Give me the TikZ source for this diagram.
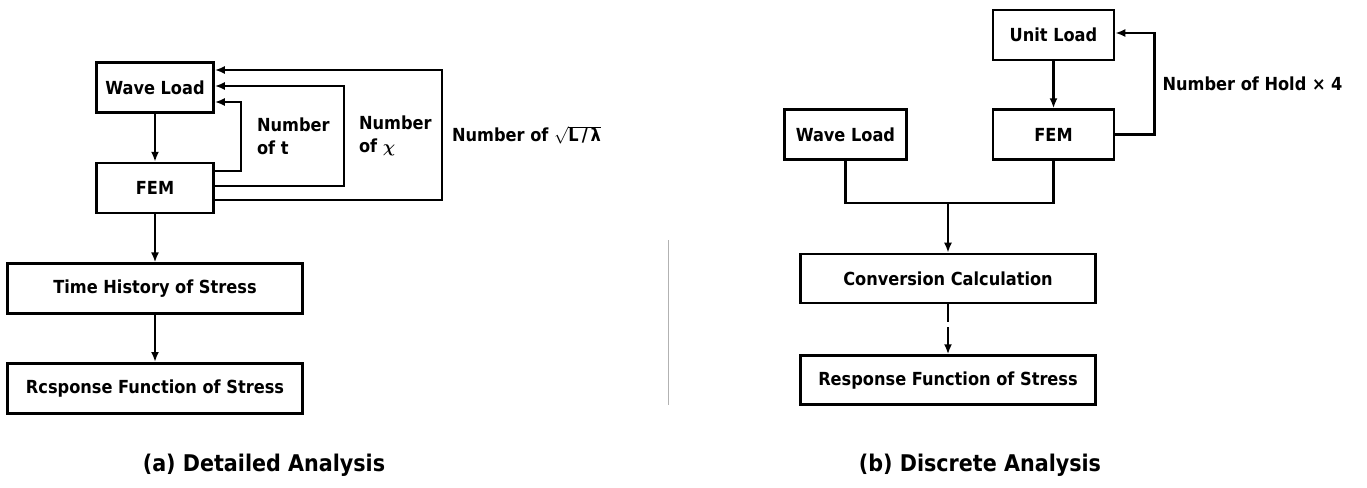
\documentclass[tikz,border=0pt]{standalone}
\usepackage{fontspec}
\setmainfont{DejaVu Sans Condensed}
\usetikzlibrary{arrows.meta,positioning,calc}

\begin{document}
\begin{tikzpicture}[
  x=1pt, y=-1pt,
  node distance=48pt and 84pt,
  every node/.style={font=\bfseries\fontsize{18}{21}\selectfont},
  box/.style={draw, line width=2.6pt, minimum height=50pt, inner sep=0pt, align=center},
  small/.style={box, minimum width=117pt},
  wide/.style={box, minimum width=295pt},
  conn/.style={line width=2.6pt},
  arr/.style={conn, -{Latex[length=10pt, width=8pt]}},
  lbl/.style={align=left, inner sep=0pt},
  capt/.style={font=\bfseries\fontsize{23}{27}\selectfont},
  sep/.style={gray!60, line width=1pt}
]
\useasboundingbox (0,0) rectangle (1367,487);

% (a) detailed analysis
\node[small] (wl) at (155,87.5) {Wave Load};
\node[small, below=of wl] (fem) {FEM};
\node[wide, below=of fem] (th) {Time History of Stress};
\node[wide, below=47pt of th] (rf) {Rcsponse Function of Stress};

\draw[arr] (wl) -- (fem);
\draw[arr] (fem) -- (th);
\draw[arr] (th) -- (rf);
\draw[arr] ([yshift=17pt]fem.east) -- ++(26,0) |- node[pos=0.25, right=15pt, lbl] {Number\\[2pt]of t} ([yshift=-14.5pt]wl.east);
\draw[arr] ([yshift=2pt]fem.east) -- ++(129,0) |- node[pos=0.25, right=14pt, lbl] {Number\\[2pt]of {\boldmath$\chi$}} ([yshift=1.5pt]wl.east);
\draw[arr] ([yshift=-12pt]fem.east) -- ++(227,0) |- node[pos=0.25, right=9pt, lbl] {Number of $\sqrt{\hbox{L\,/\,λ}}$} ([yshift=17.5pt]wl.east);

% separator
\draw[sep] (668,240) -- (668,405);

% (b) discrete analysis
\node[box, minimum width=121pt] (ul) at (1053.5,35) {Unit Load};
\node[box, minimum width=121pt, below=47pt of ul] (fem2) {FEM};
\node[box, minimum width=122pt, left=84pt of fem2] (wl2) {Wave Load};
\coordinate (jn) at (948,203);
\node[wide, minimum height=49pt] (cc) at (948,278.5) {Conversion Calculation};
\node[wide, minimum height=49pt, below=50pt of cc] (rf2) {Response Function of Stress};

\draw[arr] (ul) -- (fem2);
\draw[arr] (fem2.east) -- ++(39,0) |- node[pos=0.25, right=7pt, lbl] {Number of Hold × 4} ([yshift=2pt]ul.east);
\draw[conn] (wl2.south) |- (jn) -| (fem2.south);
\draw[arr] (jn) -- (cc);
\draw[arr, dash pattern=on 18pt off 5pt on 40pt off 5pt] (cc) -- (rf2);

% captions
\node[capt] (capa) at (264,465) {(a) Detailed Analysis};
\node[capt] (capb) at (980,465) {(b) Discrete Analysis};
\end{tikzpicture}
\end{document}
